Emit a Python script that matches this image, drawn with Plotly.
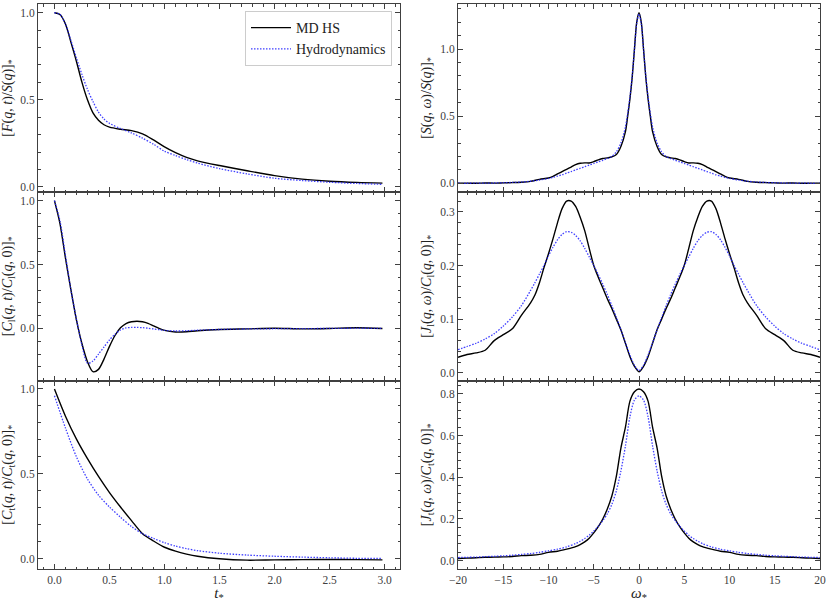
import plotly.graph_objects as go
from plotly.subplots import make_subplots

# ---------------- data ----------------
t_F = [0, 0.05, 0.1, 0.15, 0.2, 0.25, 0.3, 0.35, 0.4, 0.45, 0.5, 0.6, 0.7, 0.8, 0.9, 1.0,
       1.1, 1.2, 1.3, 1.5, 1.75, 2.0, 2.25, 2.5, 2.75, 2.98]
F_md = [1.0, 0.99, 0.935, 0.83, 0.72, 0.60, 0.50, 0.425, 0.383, 0.357, 0.343, 0.331, 0.323, 0.305,
        0.27, 0.23, 0.197, 0.17, 0.15, 0.123, 0.093, 0.065, 0.045, 0.033, 0.026, 0.022]
F_hy = [1.0, 0.99, 0.935, 0.84, 0.74, 0.645, 0.56, 0.49, 0.43, 0.39, 0.365, 0.335, 0.31, 0.28,
        0.245, 0.205, 0.18, 0.157, 0.137, 0.105, 0.075, 0.05, 0.037, 0.027, 0.02, 0.015]

t_L = [0, 0.05, 0.1, 0.15, 0.2, 0.25, 0.3, 0.35, 0.4, 0.45, 0.5, 0.55, 0.6, 0.65, 0.7, 0.75, 0.8,
       0.85, 0.9, 0.95, 1.0, 1.1, 1.2, 1.3, 1.5, 1.75, 2.0, 2.25, 2.5, 2.75, 2.98]
Cl_md = [1.0, 0.82, 0.55, 0.30, 0.065, -0.12, -0.26, -0.338, -0.32, -0.24, -0.14, -0.055, 0.005,
         0.038, 0.052, 0.056, 0.052, 0.04, 0.02, 0.0, -0.015, -0.028, -0.026, -0.018, -0.008,
         -0.003, 0.002, -0.003, 0.0, 0.006, 0.0]
Cl_hy = [1.0, 0.84, 0.57, 0.30, 0.07, -0.13, -0.272, -0.255, -0.2, -0.145, -0.09, -0.045, -0.012,
         0.004, 0.008, 0.008, 0.006, 0.002, -0.004, -0.01, -0.015, -0.02, -0.018, -0.014, -0.008,
         -0.004, -0.002, -0.001, 0.0, 0.002, 0.0]

t_T = [0, 0.1, 0.2, 0.3, 0.4, 0.5, 0.6, 0.7, 0.8, 0.9, 1.0, 1.1, 1.2, 1.3, 1.5, 1.75, 2.0, 2.25,
       2.5, 2.75, 2.98]
Ct_md = [1.0, 0.84, 0.705, 0.59, 0.485, 0.39, 0.305, 0.225, 0.148, 0.105, 0.068, 0.045, 0.028,
         0.015, 0.0, -0.008, -0.006, -0.005, -0.004, -0.005, -0.006]
Ct_hy = [0.96, 0.77, 0.60, 0.47, 0.375, 0.305, 0.245, 0.19, 0.148, 0.12, 0.095, 0.075, 0.06,
         0.048, 0.033, 0.022, 0.015, 0.01, 0.006, 0.003, 0.002]

w_S = [-20, -19, -18, -17, -16, -15, -14, -13, -12, -11, -10, -9.5, -9, -8.5, -8, -7.5, -7, -6.5,
       -6, -5.5, -5, -4.5, -4, -3.5, -3, -2.5, -2, -1.5, -1.25, -1, -0.75, -0.5, -0.25, 0, 0.25,
       0.5, 0.75, 1, 1.25, 1.5, 2, 2.5, 3, 3.5, 4, 4.5, 5, 5.5, 6, 6.5, 7, 7.5, 8, 8.5, 9, 9.5, 10,
       11, 12, 13, 14, 15, 16, 17, 18, 19, 20]
S_md = [0.001, 0.002, 0.001, 0.003, 0.002, 0.004, 0.006, 0.009, 0.015, 0.03, 0.04, 0.052, 0.07,
        0.088, 0.105, 0.122, 0.14, 0.15, 0.153, 0.152, 0.162, 0.175, 0.185, 0.19, 0.197, 0.215,
        0.275, 0.385, 0.5, 0.63, 0.79, 1.0, 1.2,
        1.27,
        1.2, 1.0, 0.79, 0.63, 0.5, 0.385, 0.275, 0.215, 0.197, 0.19, 0.185, 0.175, 0.162, 0.152,
        0.153, 0.15, 0.14, 0.122, 0.105, 0.088, 0.07, 0.052, 0.04, 0.03, 0.015, 0.009, 0.006,
        0.004, 0.002, 0.003, 0.001, 0.002, 0.001]
S_hy = [0.001, 0.001, 0.002, 0.002, 0.003, 0.005, 0.007, 0.01, 0.016, 0.025, 0.037, 0.045, 0.054,
        0.064, 0.076, 0.088, 0.1, 0.112, 0.124, 0.136, 0.148, 0.16, 0.172, 0.185, 0.2, 0.235, 0.3,
        0.42, 0.52, 0.645, 0.8, 1.0, 1.19,
        1.26,
        1.19, 1.0, 0.8, 0.645, 0.52, 0.42, 0.3, 0.235, 0.2, 0.185, 0.172, 0.16, 0.148, 0.136,
        0.124, 0.112, 0.1, 0.088, 0.076, 0.064, 0.054, 0.045, 0.037, 0.025, 0.016, 0.01, 0.007,
        0.005, 0.003, 0.002, 0.002, 0.001, 0.001]

w_J = [-20, -19, -18, -17, -16, -15, -14, -13, -12, -11.5, -11, -10.5, -10, -9.5, -9, -8.5, -8,
       -7.5, -7, -6.5, -6, -5.5, -5, -4.5, -4, -3.5, -3, -2.5, -2, -1.5, -1, -0.5, 0, 0.5, 1, 1.5,
       2, 2.5, 3, 3.5, 4, 4.5, 5, 5.5, 6, 6.5, 7, 7.5, 8, 8.5, 9, 9.5, 10, 10.5, 11, 11.5, 12, 13,
       14, 15, 16, 17, 18, 19, 20]
Jl_md = [0.029, 0.034, 0.037, 0.042, 0.06, 0.071, 0.082, 0.107, 0.13, 0.145, 0.168, 0.196, 0.222,
         0.25, 0.28, 0.306, 0.32, 0.32, 0.31, 0.29, 0.265, 0.232, 0.2, 0.178, 0.158, 0.138, 0.12,
         0.1, 0.08, 0.055, 0.03, 0.012,
         0.002,
         0.012, 0.03, 0.055, 0.08, 0.1, 0.12, 0.138, 0.158, 0.178, 0.2, 0.232, 0.265, 0.29, 0.31,
         0.32, 0.32, 0.306, 0.28, 0.25, 0.222, 0.196, 0.168, 0.145, 0.13, 0.107, 0.082, 0.071,
         0.06, 0.042, 0.037, 0.034, 0.029]
Jl_hy = [0.043, 0.049, 0.055, 0.063, 0.073, 0.087, 0.104, 0.125, 0.153, 0.168, 0.184, 0.2, 0.218,
         0.234, 0.248, 0.258, 0.263, 0.262, 0.256, 0.246, 0.232, 0.216, 0.2, 0.183, 0.165, 0.146,
         0.125, 0.103, 0.08, 0.056, 0.033, 0.014,
         0.004,
         0.014, 0.033, 0.056, 0.08, 0.103, 0.125, 0.146, 0.165, 0.183, 0.2, 0.216, 0.232, 0.246,
         0.256, 0.262, 0.263, 0.258, 0.248, 0.234, 0.218, 0.2, 0.184, 0.168, 0.153, 0.125, 0.104,
         0.087, 0.073, 0.063, 0.055, 0.049, 0.043]

w_T = [-20, -19, -18, -17, -16, -15, -14, -13, -12, -11, -10, -9, -8, -7, -6.5, -6, -5.5, -5,
       -4.5, -4, -3.5, -3, -2.5, -2, -1.5, -1, -0.5, 0, 0.5, 1, 1.5, 2, 2.5, 3, 3.5, 4, 4.5, 5,
       5.5, 6, 6.5, 7, 8, 9, 10, 11, 12, 13, 14, 15, 16, 17, 18, 19, 20]
Jt_md = [0.01, 0.012, 0.014, 0.016, 0.017, 0.018, 0.02, 0.024, 0.026, 0.03, 0.04, 0.045, 0.055,
         0.067, 0.077, 0.09, 0.108, 0.133, 0.163, 0.2, 0.248, 0.31, 0.405, 0.54, 0.64, 0.765, 0.81,
         0.823,
         0.81, 0.765, 0.64, 0.54, 0.405, 0.31, 0.248, 0.2, 0.163, 0.133, 0.108, 0.09, 0.077, 0.067,
         0.055, 0.045, 0.04, 0.03, 0.026, 0.024, 0.02, 0.018, 0.017, 0.016, 0.014, 0.012, 0.01]
Jt_hy = [0.015, 0.016, 0.017, 0.019, 0.021, 0.023, 0.026, 0.03, 0.034, 0.04, 0.047, 0.055, 0.066,
         0.082, 0.093, 0.106, 0.122, 0.142, 0.165, 0.192, 0.225, 0.27, 0.335, 0.43, 0.55, 0.69,
         0.77,
         0.79,
         0.77, 0.69, 0.55, 0.43, 0.335, 0.27, 0.225, 0.192, 0.165, 0.142, 0.122, 0.106, 0.093,
         0.082, 0.066, 0.055, 0.047, 0.04, 0.034, 0.03, 0.026, 0.023, 0.021, 0.019, 0.017, 0.016,
         0.015]

series_names = ["MD HS", "Hydrodynamics"]
y_titles = [
    "[<i>F</i>(<i>q</i>, <i>t</i>)/<i>S</i>(<i>q</i>)]<sub>*</sub>",
    "[<i>S</i>(<i>q</i>, <i>ω</i>)/<i>S</i>(<i>q</i>)]<sub>*</sub>",
    "[<i>C</i><sub>l</sub>(<i>q</i>, <i>t</i>)/<i>C</i><sub>l</sub>(<i>q</i>, 0)]<sub>*</sub>",
    "[<i>J</i><sub>l</sub>(<i>q</i>, <i>ω</i>)/<i>C</i><sub>l</sub>(<i>q</i>, 0)]<sub>*</sub>",
    "[<i>C</i><sub>t</sub>(<i>q</i>, <i>t</i>)/<i>C</i><sub>t</sub>(<i>q</i>, 0)]<sub>*</sub>",
    "[<i>J</i><sub>t</sub>(<i>q</i>, <i>ω</i>)/<i>C</i><sub>t</sub>(<i>q</i>, 0)]<sub>*</sub>",
]
x_titles = ["<i>t</i><sub>*</sub>", "<i>ω</i><sub>*</sub>"]

# ---------------- figure ----------------
W, H = 830, 603
fig = make_subplots(rows=3, cols=2)

panels = [
    (1, 1, t_F, F_md, F_hy),
    (1, 2, w_S, S_md, S_hy),
    (2, 1, t_L, Cl_md, Cl_hy),
    (2, 2, w_J, Jl_md, Jl_hy),
    (3, 1, t_T, Ct_md, Ct_hy),
    (3, 2, w_T, Jt_md, Jt_hy),
]
for k, (r, c, x, ymd, yhy) in enumerate(panels):
    fig.add_trace(go.Scatter(x=x, y=ymd, mode="lines", name=series_names[0],
                             line=dict(color="black", width=1.4, shape="spline", smoothing=0.8),
                             showlegend=(k == 0)), row=r, col=c)
    fig.add_trace(go.Scatter(x=x, y=yhy, mode="lines", name=series_names[1],
                             line=dict(color="rgba(30,30,255,0.85)", width=1.3, dash="1.5px,1.5px",
                                       shape="spline", smoothing=0.8),
                             showlegend=(k == 0)), row=r, col=c)

FONT = "Liberation Serif"
AX = "#404040"

x_dom = {1: [38 / W, 400 / W], 2: [458 / W, 820 / W]}
y_dom = {1: [1 - 192 / H, 1 - 4 / H], 2: [1 - 380.5 / H, 1 - 192 / H], 3: [1 - 569 / H, 1 - 380.5 / H]}
x_rng = {1: [-0.1495, 3.1395], 2: [-20, 20]}
x_dt = {1: (0.5, 0.1), 2: (5, 1)}
y_cfg = {
    (1, 1): ([-0.029, 1.05], 0.5, 0.1),
    (1, 2): ([-0.064, 1.335], 0.5, 0.1),
    (2, 1): ([-0.407, 1.067], 0.5, 0.1),
    (2, 2): ([-0.0144, 0.337], 0.1, 0.02),
    (3, 1): ([-0.06, 1.05], 0.5, 0.1),
    (3, 2): ([-0.04, 0.864], 0.2, 0.04),
}

common = dict(
    showline=True, linecolor=AX, linewidth=1, mirror="allticks",
    ticks="inside", ticklen=5, tickwidth=1, tickcolor=AX,
    showgrid=False, zeroline=False, automargin=False,
    tickfont=dict(family=FONT, size=11.5, color=AX),
)

for k, (r, c, *_rest) in enumerate(panels):
    idx = (r - 1) * 2 + c
    xa = "xaxis" if idx == 1 else f"xaxis{idx}"
    ya = "yaxis" if idx == 1 else f"yaxis{idx}"
    dt, mdt = x_dt[c]
    xfmt = ".1f" if c == 1 else "d"
    xupd = dict(common, domain=x_dom[c], range=x_rng[c], dtick=dt, tick0=0,
                tickformat=xfmt, showticklabels=(r == 3),
                minor=dict(ticks="inside", ticklen=2.5, tickwidth=1, tickcolor=AX, dtick=mdt, tick0=0))
    if r == 3:
        xupd["title"] = dict(text=x_titles[c - 1], font=dict(family=FONT, size=15, color="#222"),
                             standoff=2)
    yr, ydt, ymdt = y_cfg[(r, c)]
    yupd = dict(common, domain=y_dom[r], range=yr, dtick=ydt, tick0=0, tickformat=".1f",
                minor=dict(ticks="inside", ticklen=2.5, tickwidth=1, tickcolor=AX, dtick=ymdt, tick0=0),
                title=dict(text=y_titles[idx - 1], font=dict(family=FONT, size=14, color="#222"),
                           standoff=5))
    fig.layout[xa].update(xupd)
    fig.layout[ya].update(yupd)

fig.update_layout(
    width=W, height=H,
    margin=dict(l=0, r=0, t=0, b=0, autoexpand=False),
    paper_bgcolor="white", plot_bgcolor="white",
    font=dict(family=FONT, color="#222"),
    legend=dict(x=392 / W, y=1 - 11 / H, xanchor="right", yanchor="top",
                bgcolor="white", bordercolor="#cccccc", borderwidth=1,
                font=dict(family=FONT, size=14, color="#222"),
                tracegroupgap=2, itemwidth=40),
)

fig.write_html("out.html", config={"displayModeBar": False},
               post_script="document.body.style.margin='0';document.body.style.overflow='hidden';")
